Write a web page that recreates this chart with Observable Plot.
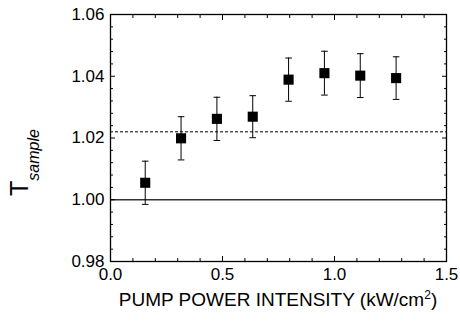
<!DOCTYPE html>
<html>
<head>
<meta charset="utf-8">
<script src="https://cdn.jsdelivr.net/npm/d3@7"></script>
<script src="https://cdn.jsdelivr.net/npm/@observablehq/plot@0.6"></script>
<style>
  html, body { margin: 0; padding: 0; background: #fff; }
  svg { display: block; }
</style>
</head>
<body>
<div id="chart"></div>
<script>
// Data
const intensity = [0.155, 0.315, 0.475, 0.635, 0.795, 0.955, 1.115, 1.275]; // kW/cm^2
const tSample   = [1.0055, 1.0199, 1.0262, 1.0269, 1.0389, 1.0410, 1.0402, 1.0394];
const tError    = [0.0070, 0.0070, 0.0070, 0.0068, 0.0070, 0.0071, 0.0071, 0.0069];
const baselineLevel = [1.00];
const dashedLevel = [1.022];
const xTicks = [0, 0.5, 1.0, 1.5];
const xMinorTicks = [0.1, 0.2, 0.3, 0.4, 0.6, 0.7, 0.8, 0.9, 1.1, 1.2, 1.3, 1.4];
const yTicks = [0.98, 1.00, 1.02, 1.04, 1.06];
const yMinorTicks = [0.984, 0.988, 0.992, 0.996, 1.004, 1.008, 1.012, 1.016,
                     1.024, 1.028, 1.032, 1.036, 1.044, 1.048, 1.052, 1.056];
const xLabel = "PUMP POWER INTENSITY (kW/cm";
const xLabelSup = "2";
const yLabelMain = "T";
const yLabelSub = "sample";

const data = intensity.map((x, i) => ({
  x, y: tSample[i], lo: tSample[i] - tError[i], hi: tSample[i] + tError[i]
}));

const capSymbol = {
  draw(context, size) {
    const r = Math.sqrt(size / Math.PI);
    context.moveTo(-r, 0);
    context.lineTo(r, 0);
  }
};

const font = "'Liberation Sans', Arial, Helvetica, sans-serif";

const chart = Plot.plot({
  width: 460,
  height: 328,
  marginLeft: 110,
  marginRight: 14,
  marginTop: 14,
  marginBottom: 67,
  style: { fontFamily: font, background: "#fff", color: "#000" },
  x: { domain: [0, 1.5] },
  y: { domain: [0.98, 1.06] },
  marks: [
    Plot.ruleY(baselineLevel, { stroke: "#333", strokeWidth: 1.4 }),
    Plot.ruleY(dashedLevel, { stroke: "#000", strokeWidth: 1, strokeDasharray: "3,2" }),
    Plot.ruleX(data, { x: "x", y1: "lo", y2: "hi", stroke: "#000", strokeWidth: 1 }),
    Plot.dot(data, { x: "x", y: "hi", symbol: capSymbol, r: 3.3, fill: "none", stroke: "#000", strokeWidth: 1 }),
    Plot.dot(data, { x: "x", y: "lo", symbol: capSymbol, r: 3.3, fill: "none", stroke: "#000", strokeWidth: 1 }),
    Plot.dot(data, { x: "x", y: "y", symbol: "square", r: 5.7, fill: "#000", stroke: "none" }),
    Plot.frame({ stroke: "#000", strokeWidth: 1.3 }),
    // inward ticks, bottom and left
    Plot.axisX({ ticks: xTicks, tickSize: -5, text: null, label: null }),
    Plot.axisX({ ticks: xMinorTicks, tickSize: -3, text: null, label: null }),
    Plot.axisY({ ticks: yTicks, tickSize: -5, text: null, label: null }),
    Plot.axisY({ ticks: yMinorTicks, tickSize: -3, text: null, label: null }),
    // mirrored ticks, top and right
    Plot.axisX({ anchor: "top", ticks: xTicks, tickSize: -5, text: null, label: null }),
    Plot.axisX({ anchor: "top", ticks: xMinorTicks, tickSize: -3, text: null, label: null }),
    Plot.axisY({ anchor: "right", ticks: yTicks, tickSize: -5, text: null, label: null }),
    Plot.axisY({ anchor: "right", ticks: yMinorTicks, tickSize: -3, text: null, label: null }),
    // tick labels
    Plot.axisX({ ticks: xTicks, tickSize: 0, tickPadding: 6, tickFormat: d3.format(".1f"), fontSize: 17, label: null, fill: "#000" }),
    Plot.axisY({ ticks: yTicks, tickSize: 0, tickPadding: 6, tickFormat: d3.format(".2f"), fontSize: 17, label: null, fill: "#000" })
  ]
});

document.getElementById("chart").appendChild(chart);

const svg = d3.select(chart);
const xl = svg.append("text")
  .attr("x", 278).attr("y", 306)
  .attr("text-anchor", "middle")
  .attr("font-family", font)
  .attr("font-size", 19)
  .attr("fill", "#000");
xl.append("tspan").text(xLabel);
xl.append("tspan").attr("dy", -7).attr("font-size", 12).text(xLabelSup);
xl.append("tspan").attr("dy", 7).text(")");

const yl = svg.append("text")
  .attr("transform", "translate(28,196) rotate(-90)")
  .attr("text-anchor", "start")
  .attr("font-family", font)
  .attr("fill", "#000");
yl.append("tspan").attr("font-size", 25).text(yLabelMain);
yl.append("tspan").attr("dy", 11).attr("font-size", 16).attr("font-style", "italic").text(yLabelSub);
</script>
</body>
</html>
